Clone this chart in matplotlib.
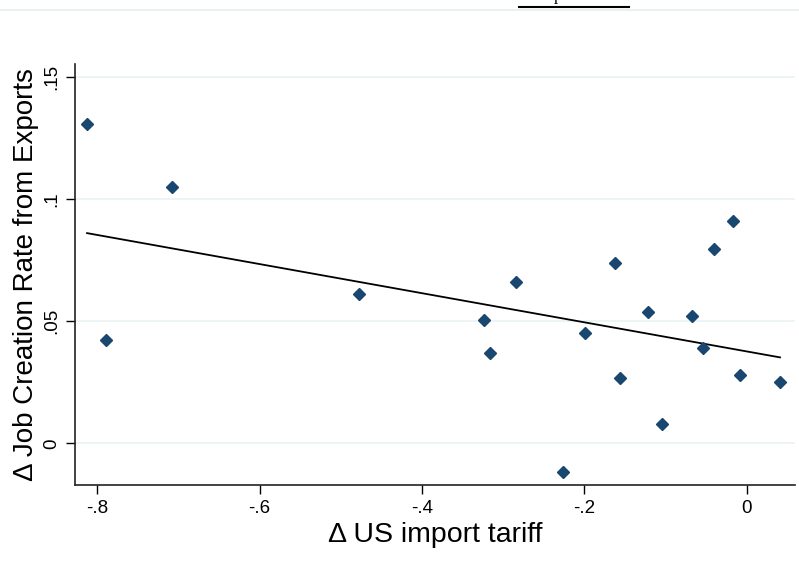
import numpy as np
import matplotlib
matplotlib.use("Agg")
import matplotlib.pyplot as plt

# change in US import tariff vs change in job creation rate from exports
tariff_change = [-0.8124, -0.7887, -0.7074, -0.4775, -0.3232, -0.3165, -0.2841,
                 -0.2266, -0.1995, -0.1622, -0.1557, -0.1219, -0.1047, -0.0674,
                 -0.0538, -0.0403, -0.0165, -0.0079, 0.0410]
job_creation = [0.1310, 0.0423, 0.1050, 0.0612, 0.0505, 0.0369, 0.0660,
                -0.0119, 0.0453, 0.0739, 0.0268, 0.0538, 0.0078, 0.0522,
                0.0389, 0.0796, 0.0912, 0.0279, 0.0252]

x_ticks = [-0.8, -0.6, -0.4, -0.2, 0.0]
x_labels = ["-.8", "-.6", "-.4", "-.2", "0"]
y_ticks = [0.0, 0.05, 0.1, 0.15]
y_labels = ["0", ".05", ".1", ".15"]

plt.rcParams['font.family'] = ['Liberation Sans', 'DejaVu Sans']

fig = plt.figure(figsize=(7.99, 5.71), dpi=100)
ax = fig.add_axes([0.0939, 0.1506, 0.9011, 0.7374])

x = np.array(tariff_change)
y = np.array(job_creation)

# linear fit, drawn over the range of the data
slope, intercept = np.polyfit(x, y, 1)
xs = np.array([x.min(), x.max()])
ax.plot(xs, intercept + slope * xs, color="black", lw=1.3, zorder=2)

ax.plot(x, y, linestyle="none", marker="D", markersize=5.8,
        color="#1a476f", zorder=3)

ax.set_xlim(-0.8272, 0.0595)
ax.set_ylim(-0.0171, 0.1555)

ax.set_xticks(x_ticks)
ax.set_xticklabels(x_labels, fontsize=13.5)
ax.set_yticks(y_ticks)
ax.set_yticklabels(y_labels, fontsize=13.5, rotation=90, va="center")
ax.tick_params(axis="both", length=6.5, width=1.0, color="black", pad=4)

ax.grid(axis="y", color="#eaf2f3", lw=1.2)
ax.set_axisbelow(True)

for side in ["top", "right"]:
    ax.spines[side].set_visible(False)
for side in ["left", "bottom"]:
    ax.spines[side].set_linewidth(1.2)
    ax.spines[side].set_color("#222222")

ax.set_xlabel("Δ US import tariff", fontsize=20.5, labelpad=4)
ax.set_ylabel("Δ Job Creation Rate from Exports", fontsize=20, labelpad=3)

# bits of the page above the chart
fig.add_artist(plt.Line2D([0, 1], [1 - 10 / 571, 1 - 10 / 571],
                          color="#e6ecee", lw=1.2, transform=fig.transFigure))
fig.add_artist(plt.Line2D([519 / 799, 629 / 799], [1 - 6.7 / 571, 1 - 6.7 / 571],
                          color="black", lw=1.5, transform=fig.transFigure))
fig.text(558 / 799, 1 - 0.5 / 571, "p", family="Liberation Serif",
         fontsize=12, va="baseline", ha="center")

fig.savefig("out.png", dpi=100)
